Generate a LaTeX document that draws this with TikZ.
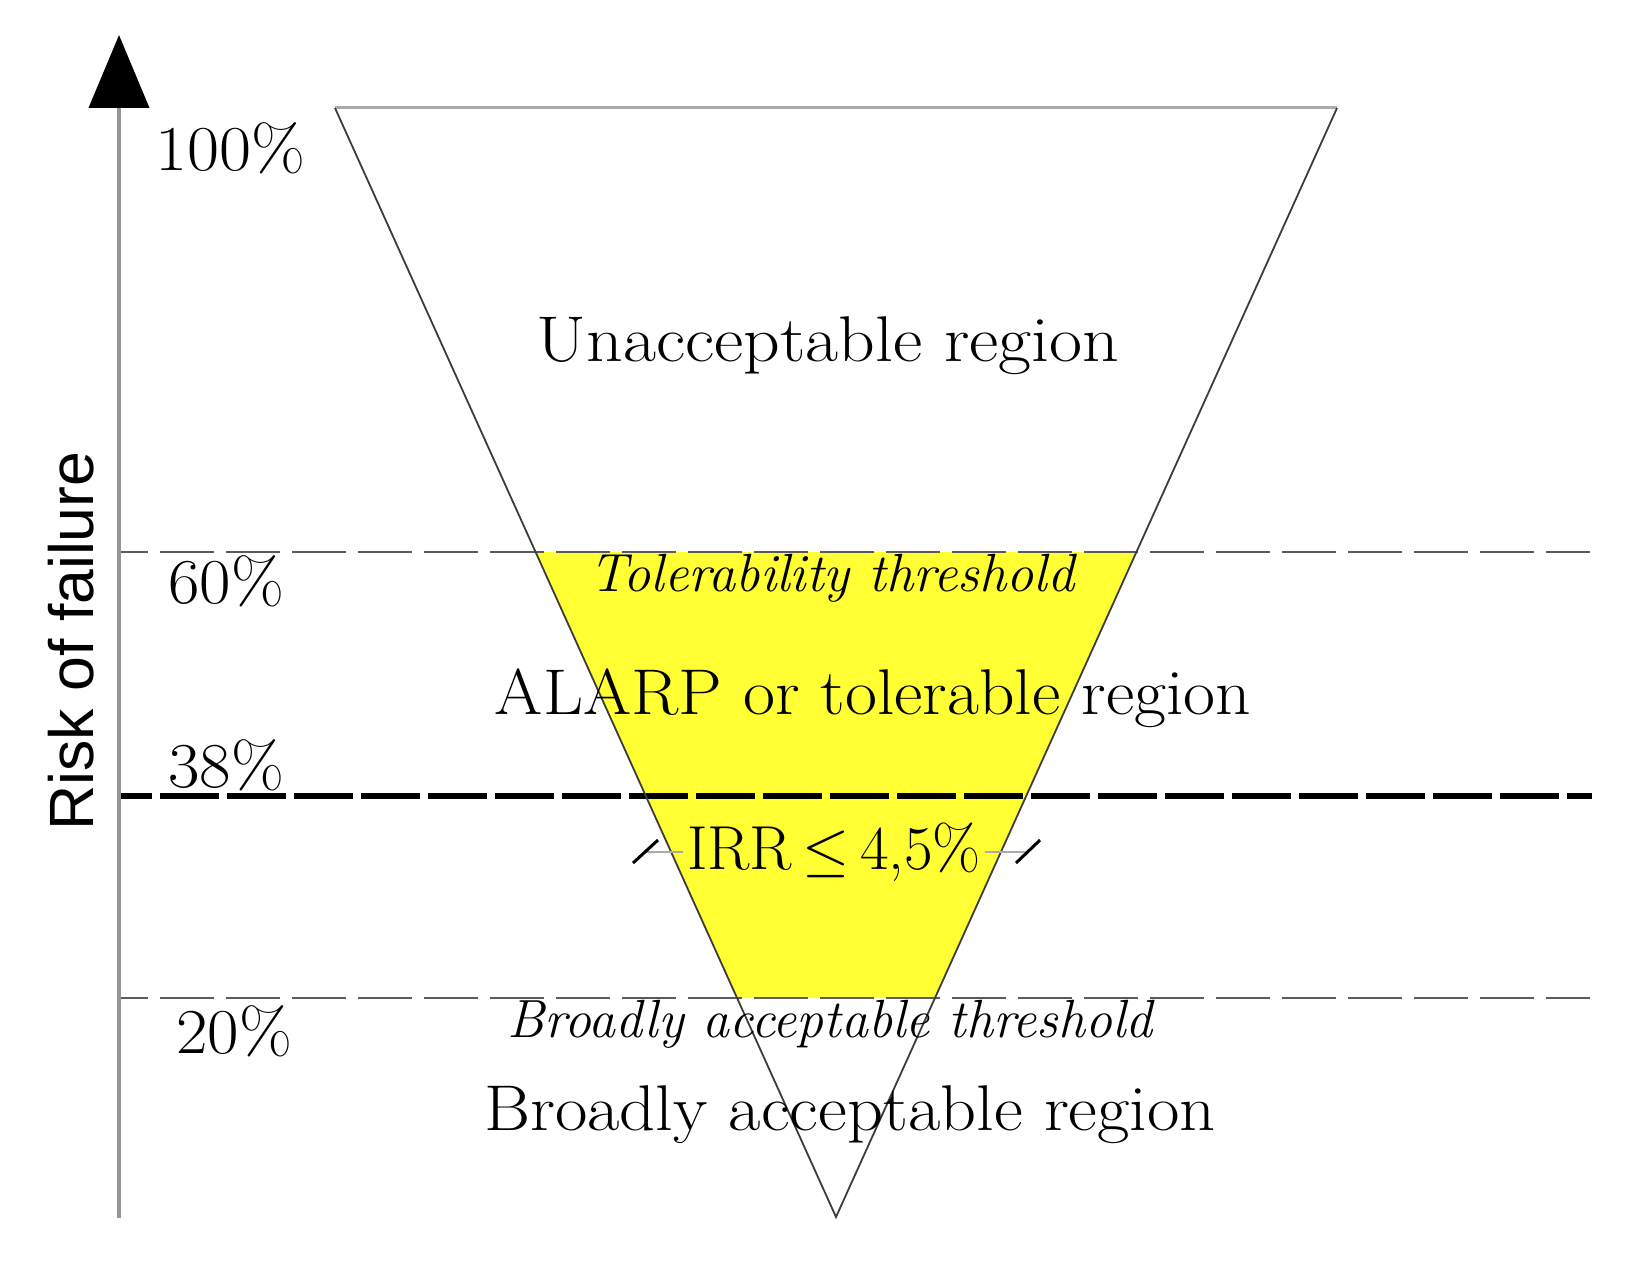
\documentclass[tikz,border=0pt]{standalone}
\usepackage{fontspec}
\newfontfamily\axisfont{Liberation Sans}
\usetikzlibrary{arrows.meta}
\definecolor{alarp}{RGB}{255,255,51}
\definecolor{thingray}{RGB}{90,90,90}
\definecolor{axisgray}{RGB}{150,150,150}
\definecolor{topgray}{RGB}{170,170,170}
\definecolor{sidegray}{RGB}{60,60,60}
\definecolor{dimgray}{RGB}{170,170,170}
\newcommand{\widetext}[2]{\scalebox{#1}[1]{#2}}
\begin{document}
\begin{tikzpicture}[x=0.1mm,y=-0.1mm,
  big/.style={font=\fontsize{18.4}{20}\selectfont, inner sep=0pt, anchor=base},
  pct/.style={font=\fontsize{18.2}{20}\selectfont, inner sep=0pt, anchor=base},
  ital/.style={font=\fontsize{15.3}{16}\selectfont\itshape, inner sep=0pt, anchor=base},
  thinline/.style={draw=thingray, line width=0.25mm, dash pattern=on 5.4mm off 1.2mm, dash phase=2.5mm},
  thickline/.style={draw=black, line width=0.6mm, dash pattern=on 5.9mm off 0.8mm, dash phase=2.6mm},
  dimline/.style={draw=dimgray, line width=0.2mm},
  tickmark/.style={draw=black, line width=0.3mm},
]
\useasboundingbox (0,0) rectangle (1625,1275);
% triangle corners
\coordinate (L) at (335,108);
\coordinate (R) at (1337,108);
\coordinate (A) at (836,1217);
% ALARP (yellow) band
\fill[alarp] (535.6,552) -- (1136.4,552) -- (934.9,998) -- (737.1,998) -- cycle;
% threshold lines
\coordinate (t60a) at (119,552);  \coordinate (t60b) at (1590,552);
\coordinate (t38a) at (119,796);  \coordinate (t38b) at (1592,796);
\coordinate (t20a) at (119,998);  \coordinate (t20b) at (1590,998);
\draw[thinline] (t60a) -- (t60b);
\draw[thickline] (t38a) -- (t38b);
\draw[thinline] (t20a) -- (t20b);
% triangle outline
\draw[draw=topgray, line width=0.3mm] (L) -- (R);
\draw[draw=sidegray, line width=0.18mm] (L) -- (A) -- (R);
% axis
\coordinate (ax0) at (119,1218);
\coordinate (ax1) at (119,35);
\draw[axisgray, line width=0.4mm, -{Triangle[width=6mm,length=7.3mm,color=black]}] (ax0) -- (ax1);
% labels
\node[pct] (p100) at (230,170) {\widetext{1.09}{100\%}};
\node[pct] (p60) at (226,603) {\widetext{1.07}{60\%}};
\node[pct] (p38) at (226,787) {\widetext{1.07}{38\%}};
\node[pct] (p20) at (234,1053) {\widetext{1.07}{20\%}};
\node[big] (unacc) at (828,361) {\widetext{1.11}{Unacceptable region}};
\node[ital] (tol) at (832,591) {\widetext{1.01}{Tolerability threshold}};
\node[big] (alarpt) at (873,714) {\widetext{1.075}{ALARP or tolerable region}};
\node[ital] (bthr) at (830,1037) {Broadly acceptable threshold};
\node[big] (broad) at (850,1130) {\widetext{1.09}{Broadly acceptable region}};
\node[font=\fontsize{17.7}{18}\selectfont, inner sep=1pt, anchor=base] (irr) at (834,869) {IRR\,$\leq$\,4,5\%};
\node[font=\axisfont\fontsize{17.8}{18}\selectfont, rotate=90, anchor=base, inner sep=0pt] (risk) at (93,641) {Risk of failure};
% IRR dimension line
\coordinate (tickL) at (646,852);
\coordinate (tickR) at (1028,852);
\draw[dimline] (tickL) -- (irr.west |- tickL);
\draw[dimline] (irr.east |- tickR) -- (tickR);
\draw[tickmark] (tickL) +(-13,11) -- +(12,-12);
\draw[tickmark] (tickR) +(-12,11) -- +(12,-12);
\end{tikzpicture}
\end{document}
